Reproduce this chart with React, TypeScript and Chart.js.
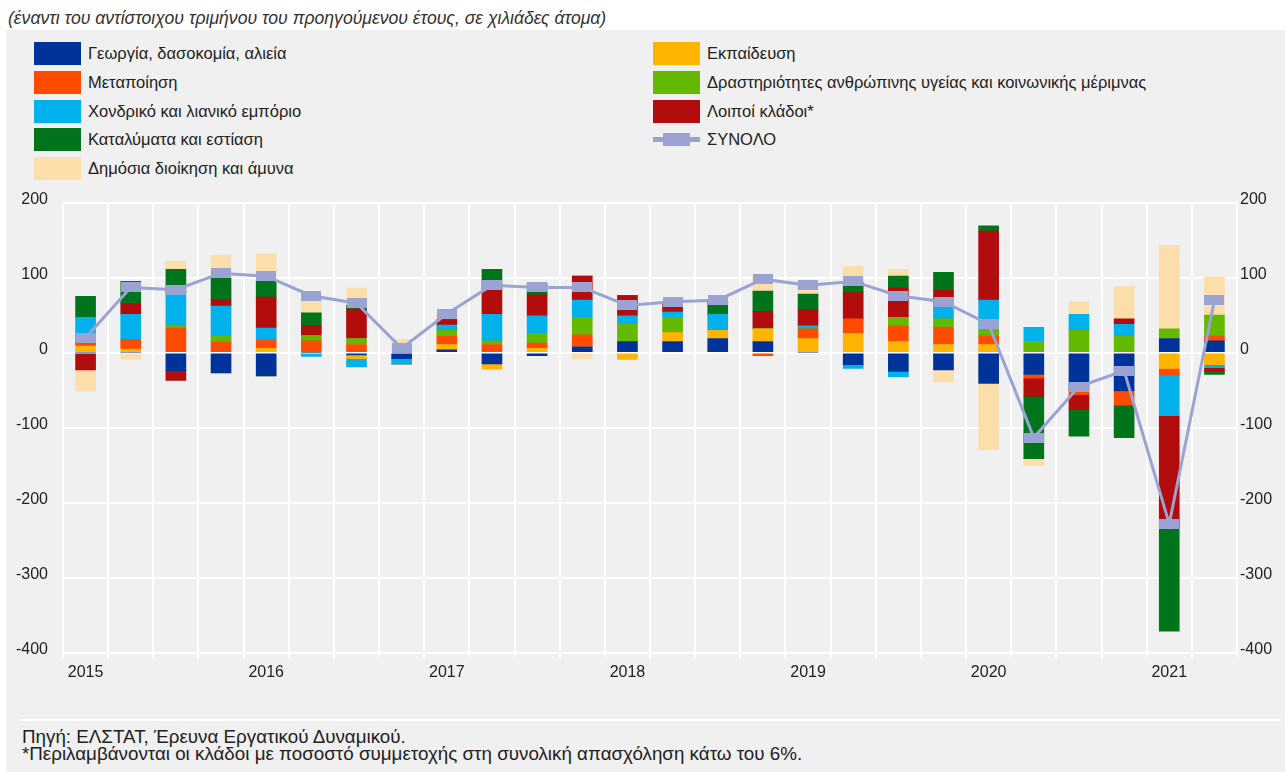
import React, { useEffect, useRef } from "react";
import { Chart, registerables } from "chart.js";

Chart.register(...registerables);

// ---------- DATA ----------
const categories = [
  "2015Q1", "2015Q2", "2015Q3", "2015Q4",
  "2016Q1", "2016Q2", "2016Q3", "2016Q4",
  "2017Q1", "2017Q2", "2017Q3", "2017Q4",
  "2018Q1", "2018Q2", "2018Q3", "2018Q4",
  "2019Q1", "2019Q2", "2019Q3", "2019Q4",
  "2020Q1", "2020Q2", "2020Q3", "2020Q4",
  "2021Q1", "2021Q2",
];

const tickLabels = [
  "2015", "", "", "",
  "2016", "", "", "",
  "2017", "", "", "",
  "2018", "", "", "",
  "2019", "", "", "",
  "2020", "", "", "",
  "2021", "",
];

const yTicks = [200, 100, 0, -100, -200, -300, -400];

const agriculture = [0, 0, -24, -27, -31, 0, -3, -8, 4, -15, -4, 8, 15, 15, 19, 15, 0, -16, -25, -23, -41, -29, -51, -51, 19, 16];
const education = [9, 5, 0, 0, 6, 0, -5, 0, 7, -7, 6, 0, -9, 12, 11, 17, 19, 26, 15, 11, 11, 0, 0, 0, -21, -16];
const manufacturing = [5, 13, 33, 15, 11, 16, 11, 0, 11, 11, 7, 16, 0, 0, 0, -4, 13, 19, 21, 23, 12, -5, -5, -19, -9, 7];
const health = [0, 0, 4, 7, 0, 7, 8, 0, 8, 5, 13, 23, 23, 20, 0, 0, 0, 0, 11, 11, 8, 15, 30, 22, 13, 27];
const trade = [33, 33, 41, 40, 16, -5, -11, -7, 7, 35, 23, 23, 11, 7, 21, 0, 4, -5, -7, 22, 39, 19, 21, 16, -54, -4];
const otherSectors = [-23, 14, -13, 9, 41, 13, 39, 0, 7, 35, 28, 32, 27, 14, 0, 23, 21, 35, 39, 16, 92, -24, -20, 7, -142, -4];
const accommodation = [28, 30, 33, 28, 21, 17, 5, 0, 0, 25, 15, 0, 0, 0, 19, 27, 21, 14, 16, 24, 7, -83, -35, -43, -145, -5];
const publicAdmin = [-28, -9, 11, 31, 37, 27, 23, 18, 8, 0, 0, -8, 0, 0, 0, 20, 11, 21, 9, -16, -88, -9, 17, 43, 111, 51];
const total = [20, 87, 84, 106, 102, 76, 66, 6, 52, 90, 87, 87, 63, 68, 70, 98, 90, 95, 76, 68, 38, -113, -45, -24, -228, 70];

const LABELS = {
  agriculture: "Γεωργία, δασοκομία, αλιεία",
  manufacturing: "Μεταποίηση",
  trade: "Χονδρικό και λιανικό εμπόριο",
  accommodation: "Καταλύματα και εστίαση",
  publicAdmin: "Δημόσια διοίκηση και άμυνα",
  education: "Εκπαίδευση",
  health: "Δραστηριότητες ανθρώπινης υγείας και κοινωνικής μέριμνας",
  otherSectors: "Λοιποί κλάδοι*",
  total: "ΣΥΝΟΛΟ",
};

const COLORS = {
  agriculture: "#003399",
  manufacturing: "#FF4B00",
  trade: "#00B1EB",
  accommodation: "#00741B",
  publicAdmin: "#FCDEAB",
  education: "#FFB400",
  health: "#64B800",
  otherSectors: "#B20C0C",
  total: "#9BA3D2",
};

const TITLE = "(έναντι του αντίστοιχου τριμήνου του προηγούμενου έτους, σε χιλιάδες άτομα)";
const FOOT1 = "Πηγή: ΕΛΣΤΑΤ, Έρευνα Εργατικού Δυναμικού.";
const FOOT2 = "*Περιλαμβάνονται οι κλάδοι με ποσοστό συμμετοχής στη συνολική απασχόληση κάτω του 6%.";

const FONT = '"Liberation Sans", Arial, Helvetica, sans-serif';
const TEXT = "#222222";

// stacking order as drawn in the reference
const stackOrder: { key: keyof typeof COLORS; data: number[] }[] = [
  { key: "agriculture", data: agriculture },
  { key: "education", data: education },
  { key: "manufacturing", data: manufacturing },
  { key: "health", data: health },
  { key: "trade", data: trade },
  { key: "otherSectors", data: otherSectors },
  { key: "accommodation", data: accommodation },
  { key: "publicAdmin", data: publicAdmin },
];

const legendCol1: (keyof typeof COLORS)[] = ["agriculture", "manufacturing", "trade", "accommodation", "publicAdmin"];
const legendCol2: (keyof typeof COLORS)[] = ["education", "health", "otherSectors", "total"];

function LegendItem({ k, x, top }: { k: keyof typeof COLORS; x: number; top: number }) {
  const isLine = k === "total";
  return (
    <div style={{ position: "absolute", left: x, top, height: 23, width: 600 }}>
      {isLine ? (
        <>
          <div style={{ position: "absolute", left: 0, top: 9, width: 47, height: 5, background: COLORS.total }} />
          <div style={{ position: "absolute", left: 10, top: 5, width: 27, height: 13, background: COLORS.total }} />
        </>
      ) : (
        <div style={{ position: "absolute", left: 0, top: 0, width: 47, height: 23, background: COLORS[k] }} />
      )}
      <div
        style={{
          position: "absolute",
          left: 54,
          top: 0,
          lineHeight: "23px",
          fontSize: 16.5,
          color: TEXT,
          whiteSpace: "nowrap",
        }}
      >
        {LABELS[k]}
      </div>
    </div>
  );
}

export default function App() {
  const ref = useRef<HTMLCanvasElement>(null);

  useEffect(() => {
    document.body.style.margin = "0";
    const marker = document.createElement("canvas");
    marker.width = 20;
    marker.height = 10;
    const mctx = marker.getContext("2d");
    if (mctx) {
      mctx.fillStyle = COLORS.total;
      mctx.fillRect(0, 0, 20, 10);
    }

    const tickFont = { family: FONT, size: 16 };

    const chart = new Chart(ref.current as HTMLCanvasElement, {
      type: "bar",
      data: {
        labels: categories,
        datasets: [
          ...stackOrder.map((s) => ({
            type: "bar" as const,
            label: LABELS[s.key],
            data: s.data,
            backgroundColor: COLORS[s.key],
            borderWidth: 0,
            barThickness: 20,
            stack: "sectors",
            yAxisID: "y",
            order: 1,
          })),
          {
            type: "line" as const,
            label: LABELS.total,
            data: total,
            borderColor: COLORS.total,
            backgroundColor: COLORS.total,
            borderWidth: 3,
            tension: 0,
            pointStyle: marker as any,
            pointRadius: 6,
            yAxisID: "y2",
            order: 0,
          },
        ] as any,
      },
      options: {
        responsive: false,
        animation: false,
        layout: { padding: { top: 1, bottom: 0, left: 0, right: 0 } },
        plugins: {
          legend: { display: false },
          tooltip: { enabled: false },
        },
        scales: {
          x: {
            stacked: true,
            offset: true,
            grid: {
              offset: true,
              color: "#ffffff",
              lineWidth: 2,
              drawTicks: true,
              tickLength: 5,
              tickColor: "#ffffff",
            },
            border: { display: false },
            ticks: {
              autoSkip: false,
              maxRotation: 0,
              minRotation: 0,
              padding: 5,
              font: tickFont,
              color: TEXT,
              callback: (_v: any, i: number) => tickLabels[i],
            },
            afterFit: (s: any) => {
              s.height = 47;
            },
          },
          y: {
            position: "left",
            stacked: true,
            min: -400,
            max: 200,
            afterBuildTicks: (s: any) => {
              s.ticks = yTicks.map((v) => ({ value: v }));
            },
            ticks: { padding: 15, font: tickFont, color: TEXT, labelOffset: -3 },
            grid: { color: "#ffffff", lineWidth: 2, drawTicks: false },
            border: { display: false },
            afterFit: (s: any) => {
              s.width = 63;
            },
          },
          y2: {
            position: "right",
            min: -400,
            max: 200,
            afterBuildTicks: (s: any) => {
              s.ticks = yTicks.map((v) => ({ value: v }));
            },
            ticks: { padding: 3, font: tickFont, color: TEXT, labelOffset: -3 },
            grid: { display: false, drawTicks: false },
            border: { display: false },
            afterFit: (s: any) => {
              s.width = 48;
            },
          },
        },
      } as any,
    });
    return () => chart.destroy();
  }, []);

  return (
    <div style={{ position: "relative", width: 1285, height: 772, background: "#ffffff", fontFamily: FONT, overflow: "hidden" }}>
      <div
        style={{
          position: "absolute",
          left: 8,
          top: 7,
          fontSize: 17.6,
          fontStyle: "italic",
          color: "#333333",
          lineHeight: "22px",
          whiteSpace: "nowrap",
        }}
      >
        {TITLE}
      </div>
      <div style={{ position: "absolute", left: 6, top: 30, right: 0, bottom: 0, background: "#f0f0f0" }} />
      {legendCol1.map((k, i) => (
        <LegendItem key={k} k={k} x={34} top={42 + i * 28.75} />
      ))}
      {legendCol2.map((k, i) => (
        <LegendItem key={k} k={k} x={653} top={42 + i * 28.75} />
      ))}
      <canvas ref={ref} width={1285} height={522} style={{ position: "absolute", left: 0, top: 178 }} />
      <div style={{ position: "absolute", left: 20, top: 719, width: 1261, height: 2, background: "#ffffff" }} />
      <div
        style={{
          position: "absolute",
          left: 22,
          top: 728,
          fontSize: 18.8,
          lineHeight: "17px",
          color: TEXT,
          whiteSpace: "nowrap",
        }}
      >
        <div>{FOOT1}</div>
        <div>{FOOT2}</div>
      </div>
    </div>
  );
}
